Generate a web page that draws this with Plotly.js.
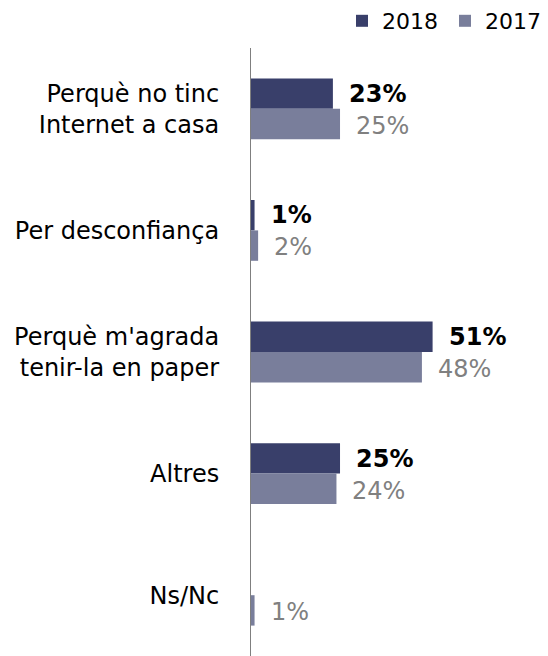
<!DOCTYPE html>
<html><head><meta charset="utf-8">
<script src="https://cdn.plot.ly/plotly-3.0.1.min.js"></script>
<style>body{margin:0;background:#fff}#c{width:548px;height:656px}</style>
</head><body><div id="c"></div>
<script>
var categories = ["Perquè no tinc<br>Internet a casa", "Per desconfiança", "Perquè m'agrada<br>tenir-la en paper", "Altres", "Ns/Nc"];
var values2018 = [23, 1, 51, 25, 0];
var values2017 = [25, 2, 48, 24, 1];
var labels2018 = ["23%", "1%", "51%", "25%", ""];
var labels2017 = ["25%", "2%", "48%", "24%", "1%"];

var c18 = "#393f6a", c17 = "#797e9b";
var font = "DejaVu Sans, Verdana, sans-serif";

var traces = [
  {type:"bar", orientation:"h", name:"2018", y:categories, x:values2018, marker:{color:c18}, hoverinfo:"none"},
  {type:"bar", orientation:"h", name:"2017", y:categories, x:values2017, marker:{color:c17}, hoverinfo:"none"}
];

var ann = [];
categories.forEach(function(cat, i){
  if (labels2018[i]) ann.push({x:values2018[i], y:i, yref:"y", xref:"x", text:"<b>"+labels2018[i]+"</b>", showarrow:false, xanchor:"left", yanchor:"middle", xshift:14, yshift:15, font:{family:font, size:24, color:"#000000"}});
  if (labels2017[i]) ann.push({x:values2017[i], y:i, yref:"y", xref:"x", text:labels2017[i], showarrow:false, xanchor:"left", yanchor:"middle", xshift:14, yshift:-17, font:{family:font, size:24, color:"#808080"}});
});

var layout = {
  width:548, height:656,
  margin:{l:251, r:10, t:48, b:0},
  paper_bgcolor:"#fff", plot_bgcolor:"#fff",
  barmode:"group", bargap:0.5, bargroupgap:0,
  font:{family:font, size:22, color:"#000"},
  showlegend:true,
  legend:{orientation:"h", xref:"container", x:1, xanchor:"right", yref:"container", y:1, yanchor:"top", font:{family:font, size:22, color:"#000"}, traceorder:"normal", itemwidth:30, entrywidth:58, entrywidthmode:"pixels"},
  xaxis:{range:[0, 80.6], showgrid:false, zeroline:false, showticklabels:false, showline:false, fixedrange:true},
  yaxis:{autorange:"reversed", type:"category", showgrid:false, zeroline:false, showline:true, linecolor:"#7f7f7f", linewidth:1, ticks:"", ticklabelstandoff:26, tickfont:{family:font, size:24, color:"#000"}, fixedrange:true},
  annotations:ann
};
Plotly.newPlot("c", traces, layout, {displayModeBar:false, staticPlot:true});
</script></body></html>
